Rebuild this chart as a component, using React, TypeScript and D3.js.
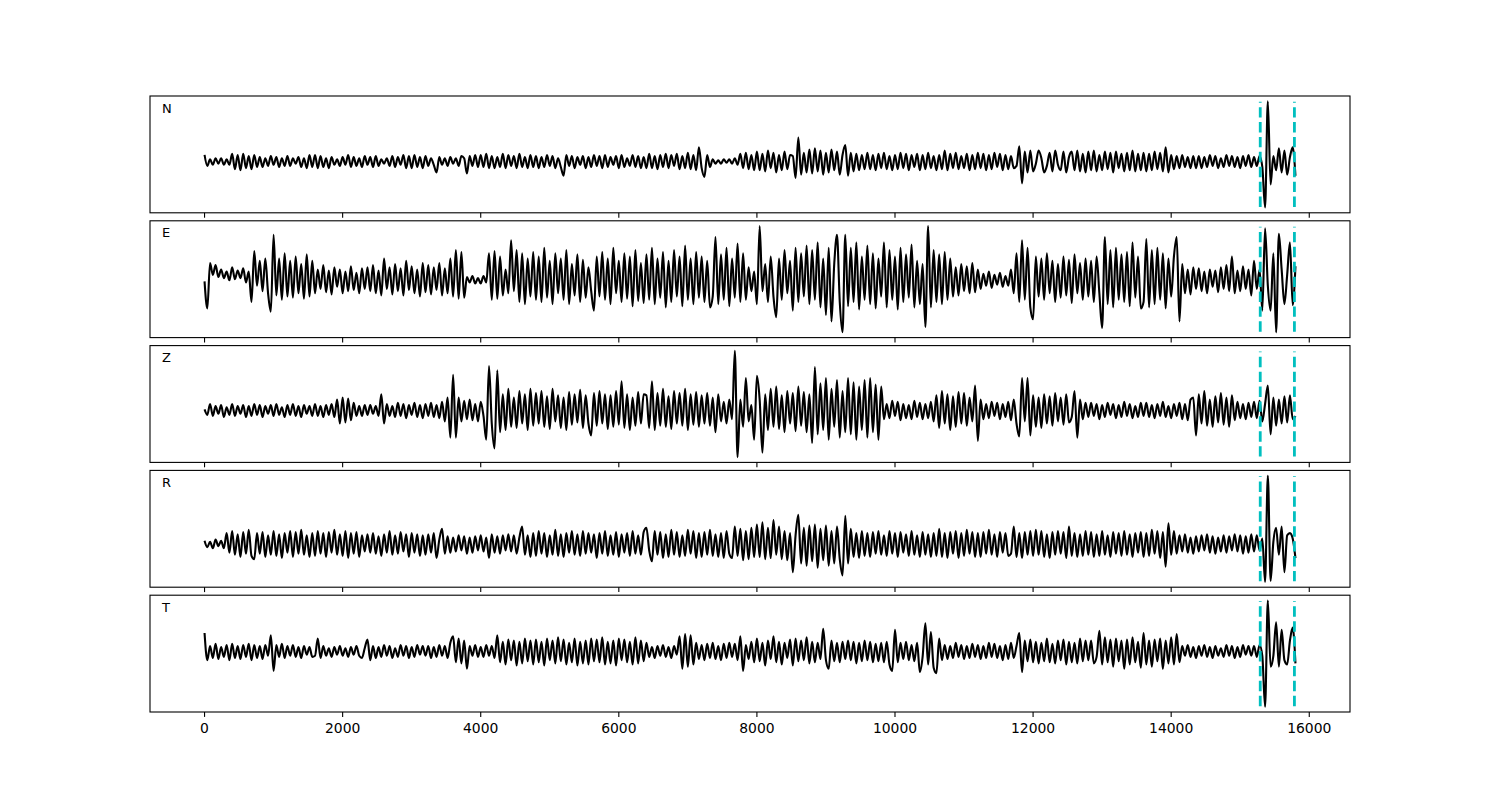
import React from "react";
import * as d3 from "d3";

// sample spacing of the traces (x units)
const SAMPLE_INTERVAL = 40;

const channels = ["N", "E", "Z", "R", "T"];
const markerTimes = [15290, 15785];
const xTicks = [0, 2000, 4000, 6000, 8000, 10000, 12000, 14000, 16000];

const traceN = [
  6,-4,2,-3,3,-2,3,-3,2,-3,7,-7,6,-8,7,-6,5,-7,6,-5,
  4,-5,3,-4,5,-3,4,-5,3,-4,5,-4,3,-2,4,-5,3,-6,6,-5,
  6,-6,5,-5,3,-6,4,-3,2,-4,4,-3,6,-5,4,-4,3,-5,5,-3,
  4,-5,5,-4,2,-2,3,-4,5,-5,4,-3,6,-6,5,-6,6,-5,4,-6,
  5,-4,3,-3,-10,4,-3,3,-4,4,-2,3,-4,5,3,-11,5,-4,6,-5,
  6,-5,7,-6,5,-6,4,-5,7,-6,6,-4,5,-6,7,-5,4,-6,6,-5,
  5,-6,4,-5,6,-4,5,-6,3,-5,-13,6,-4,5,-6,4,-3,5,-6,4,
  -5,6,-4,5,-6,6,-5,4,-3,5,-6,6,-5,3,-4,6,-5,5,-6,4,
  -6,7,-6,5,-7,6,-5,7,-6,6,-4,7,-7,5,-6,8,-7,6,-8,13,
  -6,-14,6,-5,2,-2,1,-2,2,-1,2,-2,3,-3,7,-6,8,-7,6,-8,
  9,-8,7,-9,10,-6,8,-10,6,-8,9,-7,6,5,-15,22,-12,8,-10,11,
  -11,12,-9,10,-12,8,-10,11,-8,9,-12,6,15,-13,8,-9,7,-8,6,-7,
  8,-7,6,-8,7,-6,8,-7,5,-8,6,-7,8,-6,7,-8,6,-5,7,-8,
  6,-7,8,-6,5,-8,6,-7,10,-8,7,-6,8,-7,5,-6,7,-8,6,-7,
  8,-6,7,-8,6,-7,8,-5,7,-8,6,-7,5,-6,-4,14,-20,9,-10,10,
  -9,-2,10,3,-10,-4,8,-9,10,-3,-8,9,-10,4,9,-8,10,-9,7,-10,
  9,-8,10,-9,6,-8,9,-7,8,-10,9,-6,7,-9,8,-8,10,-9,7,-8,
  8,-9,7,-8,9,-7,8,-9,13,-10,6,-7,5,-6,6,-5,4,-6,5,-6,
  5,-6,4,-5,6,-4,5,-6,3,-5,6,-4,5,-5,4,-6,5,-4,6,-5,
  4,-4,5,-5,-42,55,-21,5,-8,12,-10,10,-12,4,13,-13,
];

const traceE = [
  -1,-26,16,5,14,3,10,2,8,0,12,1,9,2,11,-2,8,-20,27,-5,
  18,-10,20,-12,-29,42,-14,20,-18,25,-15,18,-16,22,-12,15,-17,24,-15,18,
  -12,10,-8,14,-11,9,-13,12,-6,10,-12,8,-10,13,-9,7,-12,11,-8,12,
  -10,14,-12,9,-14,20,-8,12,-13,15,-10,11,-14,18,-9,13,-12,10,-15,16,
  -11,14,-13,12,-9,16,-14,11,-12,20,-15,28,-17,26,-16,3,-2,4,-3,2,
  -3,4,-2,25,-18,27,-17,22,-14,10,-12,37,-10,28,-20,25,-22,20,-15,26,
  -18,22,-20,30,-16,18,-22,25,-12,20,-18,28,-22,15,-14,24,-20,19,-16,12,
  -10,-28,22,-15,26,-18,20,-22,30,-12,18,-20,25,-17,22,-24,28,-19,16,-21,
  24,-18,30,-22,20,-16,26,-25,18,-20,28,-15,22,-24,32,-18,20,-22,26,-16,
  22,-20,18,-25,-15,40,-22,24,-18,30,-24,20,-16,34,-20,25,-18,12,-10,8,
  -22,50,-10,15,-20,22,-15,-34,20,-18,28,-12,18,-28,30,-20,25,-15,32,-22,
  28,-18,35,-25,20,-32,30,-38,15,42,-20,-48,42,-24,30,-20,35,-27,22,-18,
  32,-22,25,-26,20,-15,35,-25,28,-18,22,-27,30,-20,24,-16,33,-25,18,-22,
  15,-43,50,-25,28,-20,24,-22,26,-18,20,-15,12,-14,15,-10,13,-12,16,-11,
  10,-8,6,-5,8,-7,5,-4,7,-6,4,-5,10,-12,25,-20,37,-18,30,-25,
  -36,22,-15,20,-18,25,-12,18,-20,15,-16,22,-14,19,-21,24,-12,16,-18,20,
  -15,18,-20,22,-12,-44,40,-22,28,-25,30,-18,24,-20,26,-24,35,-16,22,-26,
  -20,38,-25,28,-22,30,-18,25,-26,20,-15,22,40,-38,15,-12,10,-13,12,-8,
  11,-10,8,-12,10,-6,9,-11,12,-8,14,-10,22,-12,9,-10,13,-8,10,-14,
  18,-8,10,-28,48,-5,-28,25,-48,43,10,-22,5,35,-23,13,
];

const traceZ = [
  1,-4,6,-5,4,-3,5,-6,3,-4,6,-5,4,-3,5,-6,4,-5,6,-4,
  5,-6,4,-3,5,-5,6,-4,3,-6,5,-4,6,-5,4,-6,5,-3,4,-5,
  6,-5,4,-6,5,-4,6,-6,10,-12,12,-11,11,-9,7,-5,4,-5,5,-4,
  5,-3,4,-5,15,-12,6,-5,4,-6,7,-5,6,-7,5,-4,7,-6,5,-7,
  6,-5,7,-6,5,-7,8,-10,12,-25,33,-25,12,-10,9,-8,10,-9,6,-10,
  8,-5,-27,41,-12,-35,37,-20,15,-18,20,-15,12,-16,18,-12,15,-18,20,-14,
  16,-12,18,-15,13,-17,20,-10,14,-16,12,-18,17,-13,15,-11,19,-16,14,-12,
  -23,16,-14,18,-12,15,-17,14,-15,18,-13,27,-16,15,-18,12,-14,17,-12,15,
  14,-16,27,-18,16,-14,20,-15,13,-17,18,-12,16,-14,20,-18,15,-13,17,-15,
  14,-12,16,-14,12,-20,15,-10,8,-12,10,-8,55,-43,10,-15,30,-10,5,-27,
  32,10,-39,15,-18,20,-15,22,-17,14,-20,18,-12,16,-19,22,-14,17,-20,15,
  -30,40,-22,25,-18,30,-27,20,-15,28,-25,18,-20,30,-22,26,-27,22,-18,28,
  -25,30,-20,24,-27,22,-8,6,-7,9,-5,8,-9,6,-7,5,-8,9,-6,7,
  -8,6,-7,8,-10,14,-16,18,-12,15,-18,13,-15,17,-12,16,-14,12,-10,23,
  -28,10,-8,6,-7,8,-5,7,-8,6,-6,8,-9,10,-12,-24,30,-10,30,-23,
  14,-15,12,-16,15,-12,13,-14,16,-10,12,-13,15,-11,-6,18,-25,10,-8,7,
  -6,7,-5,6,-8,5,-6,7,-4,6,-7,5,-6,8,-5,6,-7,4,-6,7,
  -5,7,-6,5,-7,6,-5,8,-6,4,-7,6,-5,7,-8,6,-9,10,12,-23,
  15,-12,18,-14,10,-15,13,-11,16,-13,12,-15,14,-9,8,-7,6,-8,7,-6,
  8,-7,9,-10,6,23,-22,12,-14,10,-12,13,-11,14,-8,-5,
];

const traceR = [
  3,-3,2,-4,4,-2,3,-4,10,-8,12,-10,9,-12,11,-9,13,-11,-14,10,
  -9,11,-12,8,-10,12,-11,9,-13,10,-8,12,-12,11,-9,13,-10,8,-12,10,
  -11,12,-9,10,-12,11,-8,13,-10,9,-11,12,-13,10,-9,11,-12,8,-7,9,
  -8,10,-9,7,-11,9,-8,12,-10,8,-9,11,-7,9,-12,10,-8,9,-11,8,
  -10,9,-8,10,-13,4,14,-9,7,-8,6,-7,8,-6,7,-9,6,-8,7,-6,
  8,-7,6,-13,9,-8,7,-9,8,-6,9,-7,8,-9,6,16,-10,8,-12,10,
  -11,12,-9,10,-12,8,-10,13,-11,9,-12,10,-8,12,-10,9,-11,12,-9,10,
  -8,9,-13,10,-9,12,-11,8,-10,11,-12,9,-8,10,-11,12,-9,8,-10,11,
  15,-6,-16,12,-10,11,-13,9,-12,13,-10,11,-12,8,-11,13,-9,12,-13,10,
  -12,11,-10,13,-11,9,-12,10,-13,12,-9,-13,16,-11,14,-15,12,-14,15,-12,
  18,-12,20,-14,15,-13,22,-10,16,-14,12,-15,10,-26,8,27,-18,15,-20,17,
  -16,18,-22,14,-15,17,-20,12,-18,16,-14,-29,26,-18,14,-12,10,-13,12,-11,
  10,-12,11,-9,12,-10,8,-11,12,-9,10,-12,11,-8,9,-11,12,-10,8,-12,
  11,-10,9,-12,10,-11,14,-12,10,-13,11,-9,12,-13,10,-11,13,-9,11,-12,
  10,-12,11,-9,13,-10,9,-12,11,-8,10,-11,-9,16,-12,10,-13,11,-10,12,
  -11,13,-10,12,-12,9,-13,11,-10,12,-9,11,-13,16,-11,10,-12,9,-11,12,
  -10,11,-12,9,-11,12,-10,8,-12,11,-9,10,-11,12,-10,9,-12,10,-8,11,
  -12,10,-11,13,-9,12,-13,11,-21,19,-10,12,-9,8,-7,9,-8,6,-9,7,
  -7,8,-6,9,-8,7,-9,6,-7,8,-8,7,-6,9,-7,8,-9,7,-8,9,
  -7,8,-6,5,-35,63,-34,2,15,-10,16,-26,8,10,5,-13,
];

const traceT = [
  17,-8,5,-6,7,-7,4,-5,6,-8,7,-6,5,-7,6,-5,7,-8,6,-6,
  5,-7,6,-4,15,-18,6,-5,7,-6,5,-4,6,-5,4,-6,5,-3,4,-5,
  -4,12,-6,5,-4,3,-5,4,-3,5,-4,3,-5,4,-3,5,-4,-6,3,11,
  -8,5,-6,4,-5,6,-4,5,-6,3,-5,6,-4,5,-6,4,-5,6,-3,5,
  -4,5,-6,4,-5,6,-4,5,-6,8,14,-10,12,-11,10,-16,5,-4,6,-5,
  4,-5,6,-4,5,-6,15,-10,9,-12,11,-8,10,-13,9,-11,12,-9,10,-12,
  11,-10,9,-13,12,-8,10,-11,13,-9,11,-12,8,-10,12,-13,9,-11,10,-12,
  12,-9,11,-10,13,-12,9,-11,10,-13,12,-8,11,-10,9,-12,13,-11,10,-9,
  8,-5,4,-6,5,-4,6,-5,4,-6,5,-3,14,-16,16,-14,15,-12,8,-7,
  6,-8,7,-6,8,-7,5,-8,7,-6,8,-5,7,-8,14,-18,6,-7,9,-10,
  12,-9,8,-13,10,-7,14,-10,9,-12,8,-6,11,-13,12,-9,10,-8,13,-11,
  9,-10,8,-7,21,-8,-16,10,-9,8,-10,9,-7,10,-8,9,-11,8,-9,10,
  -8,9,-10,7,-9,8,-10,9,-12,-18,20,-10,8,-7,9,-8,6,-9,8,-19,
  -5,26,-12,18,-15,-20,12,-8,6,-7,5,-6,8,-5,6,-7,5,-6,7,-5,
  6,-7,5,-6,8,-5,7,-6,5,-8,6,-7,8,-6,5,17,-19,10,-9,11,
  -10,9,-11,8,-9,12,-10,7,-11,10,-8,11,-12,9,-10,8,-11,12,-9,10,
  -8,10,-11,-5,19,-12,13,-10,11,-14,12,-9,10,-16,11,-12,13,-10,9,-15,
  17,-12,10,-14,11,-9,12,-16,10,-11,13,-12,16,-10,5,-4,6,-5,4,-6,
  5,-4,6,-5,4,-6,5,-4,3,-5,6,-4,5,-6,4,-5,6,-3,5,-4,
  5,-5,6,-4,-51,47,-14,-4,27,-14,20,-8,-12,10,22,-11,
];

const W = 1500;
const H = 800;
const LEFT = 150;
const RIGHT = 1350;
const TOP = 96;
const AX_H = 116.8;
const PITCH = 124.8;
const FONT = "DejaVu Sans, sans-serif";

export default function App() {
  const series = [traceN, traceE, traceZ, traceR, traceT];
  const xMax = (traceN.length - 1) * SAMPLE_INTERVAL;
  const pad = xMax * 0.05;
  const x = d3.scaleLinear().domain([-pad, xMax + pad]).range([LEFT, RIGHT]);
  const bottomAxis = TOP + 4 * PITCH + AX_H;

  return (
    <svg
      width={W}
      height={H}
      style={{ position: "absolute", left: 0, top: 0, display: "block", background: "#fff" }}
    >
      <rect x={0} y={0} width={W} height={H} fill="#fff" />
      {series.map((s, k) => {
        const y0 = TOP + k * PITCH;
        const [mn, mx] = d3.extent(s) as [number, number];
        const r = mx - mn;
        const y = d3
          .scaleLinear()
          .domain([mn - 0.05 * r, mx + 0.05 * r])
          .range([y0 + AX_H, y0]);
        const line = d3
          .line<number>()
          .x((_, i) => x(i * SAMPLE_INTERVAL))
          .y((d) => y(d))
          .curve(d3.curveMonotoneX);
        return (
          <g key={channels[k]}>
            <path
              d={line(s) || ""}
              fill="none"
              stroke="#000"
              strokeWidth={2.1}
              strokeLinejoin="round"
            />
            {markerTimes.map((t) => (
              <line
                key={t}
                x1={x(t)}
                x2={x(t)}
                y1={y0 + AX_H * 0.95}
                y2={y0 + AX_H * 0.05}
                stroke="#00bfbf"
                strokeWidth={2.8}
                strokeDasharray="10.4,4.5"
              />
            ))}
            <rect
              x={LEFT}
              y={y0}
              width={RIGHT - LEFT}
              height={AX_H}
              fill="none"
              stroke="#000"
              strokeWidth={1.1}
            />
            {xTicks.map((t) => (
              <line
                key={t}
                x1={x(t)}
                x2={x(t)}
                y1={y0 + AX_H}
                y2={y0 + AX_H + 4.9}
                stroke="#000"
                strokeWidth={1.1}
              />
            ))}
            <text
              x={LEFT + 12}
              y={y0 + 16.5}
              fontFamily={FONT}
              fontSize={13}
              fill="#000"
            >
              {channels[k]}
            </text>
          </g>
        );
      })}
      {xTicks.map((t) => (
        <text
          key={t}
          x={x(t)}
          y={bottomAxis + 20.5}
          textAnchor="middle"
          fontFamily={FONT}
          fontSize={13.9}
          fill="#000"
        >
          {t}
        </text>
      ))}
    </svg>
  );
}
